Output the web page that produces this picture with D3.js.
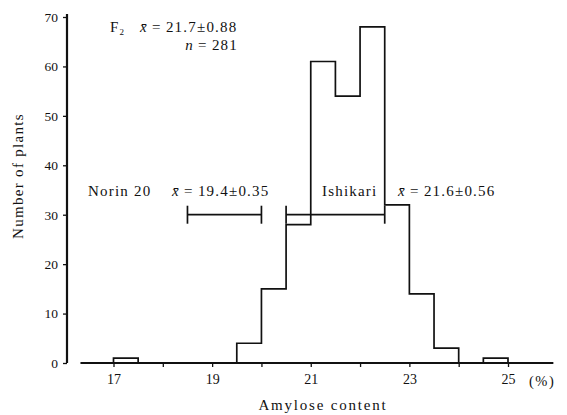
<!DOCTYPE html>
<html>
<head>
<meta charset="utf-8">
<script src="https://cdn.jsdelivr.net/npm/d3@7"></script>
<style>
  body { margin: 0; background: #fff; }
  text { font-family: "Liberation Serif", "DejaVu Serif", serif; fill: #111; }
</style>
</head>
<body>
<svg width="567" height="415"></svg>
<script>
// histogram bins (lower edge, % amylose) and counts of F2 plants
const binEdges = [16.5, 17.0, 17.5, 18.0, 18.5, 19.0, 19.5, 20.0, 20.5, 21.0, 21.5, 22.0, 22.5, 23.0, 23.5, 24.0, 24.5, 25.0];
const counts   = [0, 1, 0, 0, 0, 0, 4, 15, 28, 61, 54, 68, 32, 14, 3, 0, 1, 0];

const xTicks = [17, 18, 19, 20, 21, 22, 23, 24, 25];
const yTicks = [0, 10, 20, 30, 40, 50, 60, 70];

// parent ranges shown as bars at the 30 level
const parents = ['Norin 20', 'Ishikari'];
const parentRange = [[18.5, 20.0], [20.5, 22.5]];
const parentMean = ['19.4±0.35', '21.6±0.56'];

const svg = d3.select('svg');

const x = d3.scaleLinear().domain([17, 25]).range([113.5, 508]);
const y = d3.scaleLinear().domain([0, 70]).range([363, 17]);

// y axis
const yAxis = svg.append('g')
    .attr('transform', 'translate(67,0)')
    .call(d3.axisLeft(y).tickValues(yTicks).tickSize(4).tickPadding(5).tickSizeOuter(0));
yAxis.select('.domain').remove();
yAxis.selectAll('line').attr('stroke', '#111').attr('stroke-width', 1.3);
yAxis.selectAll('text').attr('font-size', 13.5).attr('font-family', 'Liberation Serif');
svg.append('line')
    .attr('x1', 67).attr('x2', 67)
    .attr('y1', 14).attr('y2', y(0))
    .attr('stroke', '#111').attr('stroke-width', 2.2);

// x axis
const xAxis = svg.append('g')
    .attr('transform', `translate(0,${y(0)})`)
    .call(d3.axisBottom(x).tickValues(xTicks).tickSize(4).tickPadding(7)
        .tickFormat(d => d % 2 ? d : ''));
xAxis.select('.domain').remove();
xAxis.selectAll('line').attr('stroke', '#111').attr('stroke-width', 1.3);
xAxis.selectAll('text').attr('font-size', 14).attr('font-family', 'Liberation Serif');
svg.append('line')
    .attr('x1', x(16.33)).attr('x2', x(25.92))
    .attr('y1', y(0)).attr('y2', y(0))
    .attr('stroke', '#111').attr('stroke-width', 2.2);

// histogram outline
const pts = binEdges.map((e, i) => [e, counts[i]]);
const step = d3.line()
    .x(d => x(d[0]))
    .y(d => y(d[1]))
    .curve(d3.curveStepAfter);
svg.append('path')
    .attr('d', step(pts))
    .attr('fill', 'none')
    .attr('stroke', '#111')
    .attr('stroke-width', 1.7);

// parent range bars
parentRange.forEach(r => {
    const g = svg.append('g').attr('stroke', '#111').attr('stroke-width', 1.7);
    g.append('line').attr('x1', x(r[0])).attr('x2', x(r[1])).attr('y1', y(30)).attr('y2', y(30));
    r.forEach(v => g.append('line').attr('x1', x(v)).attr('x2', x(v))
        .attr('y1', y(30) - 9).attr('y2', y(30) + 9));
});

const label = (tx, ty, anchor) => svg.append('text')
    .attr('x', tx).attr('y', ty)
    .attr('text-anchor', anchor || 'start')
    .attr('font-size', 15)
    .attr('letter-spacing', 1.2);

const meanText = (t, val) => {
    t.append('tspan').attr('font-style', 'italic').text('x\u0304');
    t.append('tspan').text('\u2009=\u2009' + val);
    return t;
};

// F2 summary
const f2 = label(110, 32);
f2.append('tspan').text('F');
f2.append('tspan').attr('font-size', 9).attr('dy', 3).text('2');
meanText(label(140, 32), '21.7±0.88');
const nt = label(238, 50, 'end');
nt.append('tspan').attr('font-style', 'italic').text('n');
nt.append('tspan').text('\u2009=\u2009281');

// parent labels
label(88, 196).text(parents[0]);
meanText(label(172, 196), parentMean[0]);
label(322, 196).text(parents[1]);
meanText(label(398, 196), parentMean[1]);

label(529, 386).attr('font-size', 14.5).attr('letter-spacing', 1.5).text('(%)');

// axis titles
label(323, 410, 'middle').attr('letter-spacing', 1.8).text('Amylose content');
label(0, 0, 'middle')
    .attr('letter-spacing', 1.3)
    .attr('transform', 'translate(23,176) rotate(-90)')
    .text('Number of plants');
</script>
</body>
</html>
